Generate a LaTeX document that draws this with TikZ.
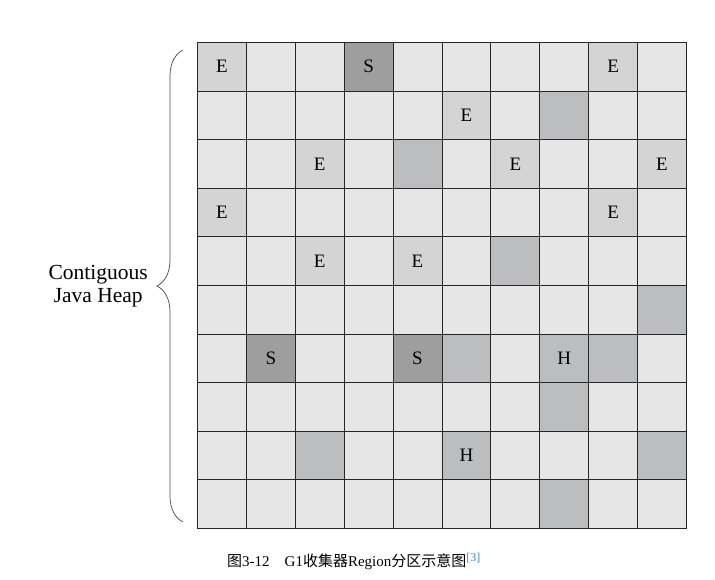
\documentclass[tikz,border=0pt]{standalone}
\usepackage{fontspec}
\setmainfont{Liberation Serif}
\newfontfamily\cjk{Noto Sans CJK SC}
\usetikzlibrary{positioning,decorations.pathreplacing}
\definecolor{regfree}{HTML}{E6E6E6}
\definecolor{regeden}{HTML}{D4D4D4}
\definecolor{regsurv}{HTML}{9E9E9E}
\definecolor{regold}{HTML}{BBBDBE}
\definecolor{gridline}{HTML}{262626}
\definecolor{citeblue}{HTML}{3A8FD0}
\begin{document}
\begin{tikzpicture}[x=1pt,y=-1pt,
    region/.style={draw=gridline,line width=0.9pt,fill=#1,minimum width=48.9pt,minimum height=48.6pt,
      inner sep=0pt,anchor=north west,font=\fontsize{19}{19}\selectfont},
    region/.default=regfree]
  \useasboundingbox (0,0) rectangle (715,580);

  % 格子
  \foreach \r in {0,...,9}
    \foreach \c in {0,...,9}
      \node[region] (c-\r-\c) at ({197+48.9*\c},{42+48.6*\r}) {};

  % 色付きのRegion
  \foreach \n/\r/\c/\t/\col in {e/0/0/E/regeden, e/0/8/E/regeden, e/1/5/E/regeden, e/2/2/E/regeden,
      e/2/6/E/regeden, e/2/9/E/regeden, e/3/0/E/regeden, e/3/8/E/regeden, e/4/2/E/regeden, e/4/4/E/regeden,
      s/0/3/S/regsurv, s/6/1/S/regsurv, s/6/4/S/regsurv,
      h/6/7/H/regold, h/8/5/H/regold,
      o/1/7/{}/regold, o/2/4/{}/regold, o/4/6/{}/regold, o/5/9/{}/regold, o/6/5/{}/regold,
      o/6/8/{}/regold, o/7/7/{}/regold, o/8/2/{}/regold, o/8/9/{}/regold, o/9/7/{}/regold}
    \node[region=\col] (\n-\r-\c) at (c-\r-\c.north west) {\t};

  % 括弧
  \coordinate (btop) at (183,50);
  \coordinate (bbot) at (183,522);
  \draw[gridline!85,line width=0.7pt,decorate,decoration={brace,amplitude=26pt}] (bbot) -- (btop);
  \coordinate (tip) at (157,286);
  \node[font=\fontsize{21.5}{23}\selectfont,align=center,inner sep=0pt,left=9pt of tip] (heap) {Contiguous\\Java Heap};

  \node[anchor=west,inner sep=0pt,font=\fontsize{15}{15}\selectfont] (caption) at (227,561)
    {{\cjk 图}3-12\quad G1{\cjk 收集器}Region{\cjk 分区示意图}\raisebox{5pt}{\fontsize{12}{12}\selectfont\color{citeblue}[3]}};
\end{tikzpicture}
\end{document}
